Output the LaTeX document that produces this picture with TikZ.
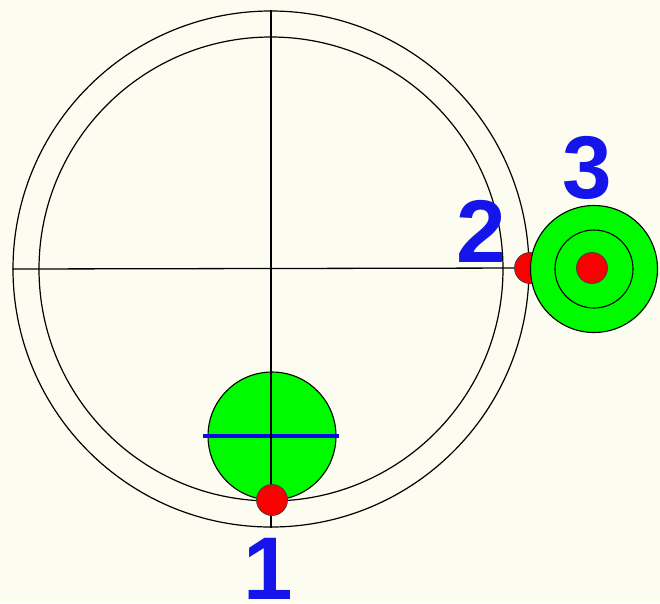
\documentclass[tikz,border=0pt]{standalone}
\usepackage{fontspec}
\setmainfont{Liberation Sans}
\usetikzlibrary{calc}
\definecolor{bgcream}{RGB}{253,252,240}
\definecolor{lime}{RGB}{0,250,0}
\definecolor{dotred}{RGB}{250,0,0}
\definecolor{labelblue}{RGB}{20,20,235}
\definecolor{lineblue}{RGB}{10,10,230}
\tikzset{
  ring/.style={circle,draw=black,line width=1.2pt,inner sep=0pt,fill=none},
  greendisc/.style={circle,draw=black,line width=1.1pt,inner sep=0pt,fill=lime},
  reddot/.style={circle,draw=black!75,line width=0.7pt,inner sep=0pt,fill=dotred,minimum size=31pt},
  hair/.style={line width=1.3pt,black},
  numlabel/.style={text=labelblue,font=\bfseries\fontsize{89}{89}\selectfont,inner sep=0pt,anchor=base}
}
\begin{document}
\begin{tikzpicture}[x=1pt,y=-1pt]
\fill[bgcream] (0,0) rectangle (660,603);
\useasboundingbox (0,0) rectangle (660,603);
% big rings
\node[ring,minimum size=516pt] (outer) at (271,269) {};
\node[ring,minimum size=464pt] (inner) at (271,269) {};
% green disc 1 with blue line
\node[greendisc,minimum size=128pt] (g1) at (272,436) {};
\coordinate (bl) at ($(g1.west)+(-4,0)$);
\coordinate (br) at ($(g1.east)+(2,0)$);
\draw[lineblue,line width=4.5pt] (bl) -- (br);
% crosshair
\coordinate (c2) at (530,268);
\draw[hair] (outer.north) -- (outer.south);
\draw[hair] (outer.west) -- (c2);
% red dots
\node[reddot] (d2) at (c2) {};
\node[reddot] (d1) at (272,500) {};
% green disc 3
\node[greendisc,minimum size=127pt] (g3) at (594,269) {};
\node[circle,draw=black,line width=1.1pt,inner sep=0pt,minimum size=78pt] (g3ring) at (594,269) {};
\node[reddot] (d3) at (592,268) {};
% labels
\node[numlabel] (l1) at (268,599) {1};
\node[numlabel] (l2) at (481,262) {2};
\node[numlabel] (l3) at (587,198) {3};
\end{tikzpicture}
\end{document}
